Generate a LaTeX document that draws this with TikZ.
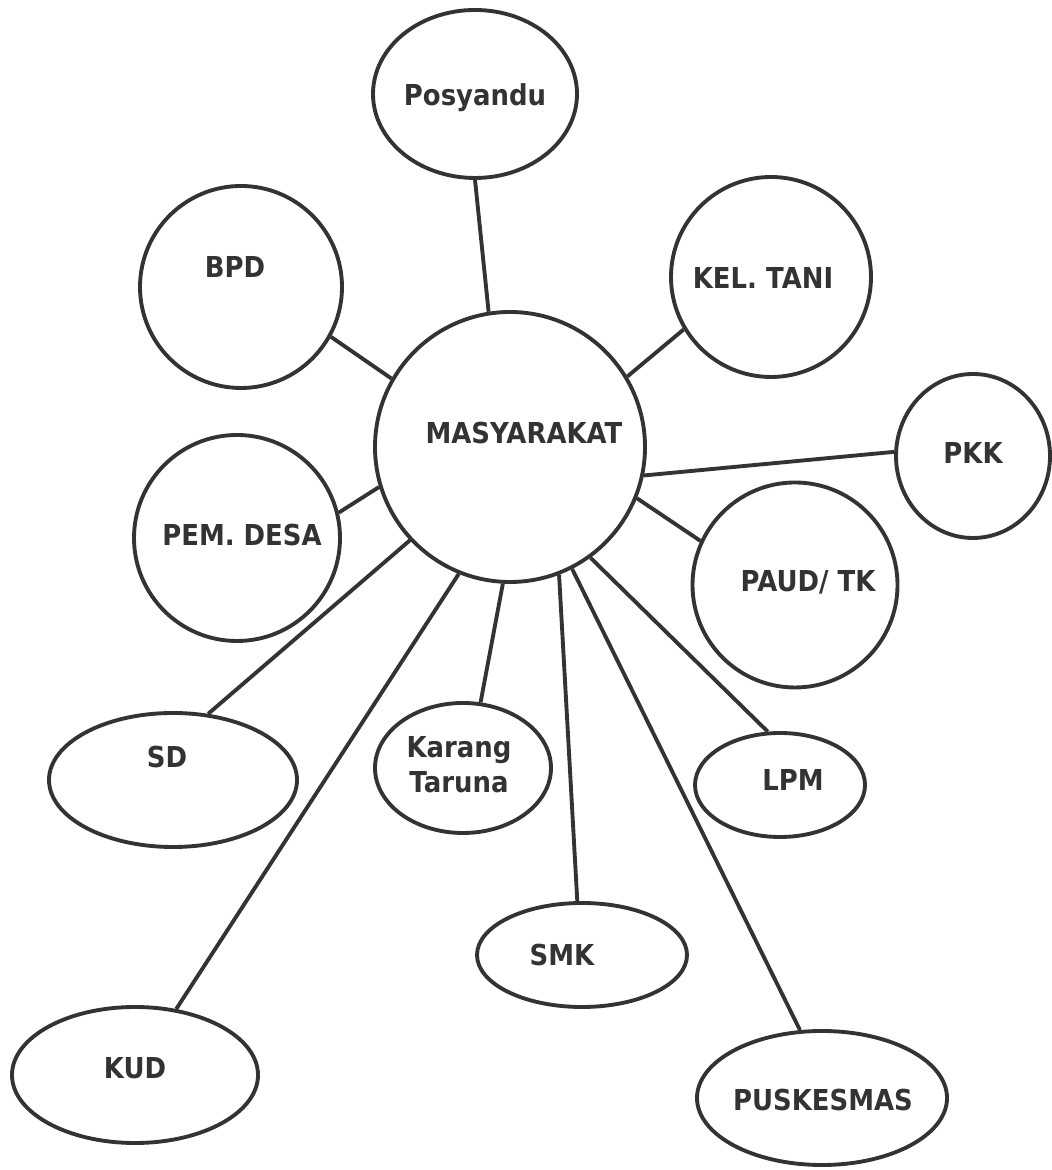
\documentclass[tikz,border=0pt]{standalone}
\usepackage{fontspec}
\setmainfont{DejaVu Sans}[FakeStretch=0.9]
\usepackage{tikz}
\usetikzlibrary{shapes.geometric}

\begin{document}
\begin{tikzpicture}[line width=1.1pt, color=black!80]
  \tikzset{unit/.style={draw, circle, minimum size=#1, inner sep=0},
           oval/.style 2 args={draw, ellipse, minimum width=#1, minimum height=#2, inner sep=0},
           lbl/.style={font=\fontsize{8.2}{10}\selectfont\bfseries, align=center, inner sep=0}}
  \useasboundingbox (0,0) rectangle (10.52,11.70);

  % the community in the middle
  \node[unit=2.70cm] (masy) at (5.10,7.23) {};
  \node[lbl] (masy-t) at (5.24,7.37) {MASYARAKAT};

  % upper ring
  \node[oval={2.04cm}{1.68cm}] (posy) at (4.75,10.76) {};
  \node[lbl] (posy-t) at (4.75,10.72) {Posyandu};
  \node[unit=2.02cm] (bpd) at (2.41,8.83) {};
  \node[lbl] (bpd-t) at (2.35,9.03) {BPD};
  \node[unit=2.00cm] (tani) at (7.71,8.93) {};
  \node[lbl] (tani-t) at (7.63,8.92) {KEL. TANI};
  \node[oval={1.54cm}{1.64cm}] (pkk) at (9.73,7.14) {};
  \node[lbl] (pkk-t) at (9.73,7.17) {PKK};
  \node[unit=2.06cm] (desa) at (2.37,6.32) {};
  \node[lbl] (desa-t) at (2.42,6.35) {PEM. DESA};
  \node[unit=2.05cm] (paud) at (7.95,5.85) {};
  \node[lbl] (paud-t) at (8.08,5.88) {PAUD/ TK};

  % lower ring
  \node[oval={2.48cm}{1.34cm}] (sd) at (1.73,3.90) {};
  \node[lbl] (sd-t) at (1.67,4.13) {SD};
  \node[oval={1.76cm}{1.30cm}] (karang) at (4.63,4.02) {};
  \node[lbl] (karang-t) at (4.59,4.05) {Karang\\Taruna};
  \node[oval={1.70cm}{1.04cm}] (lpm) at (7.80,3.85) {};
  \node[lbl] (lpm-t) at (7.93,3.90) {LPM};
  \node[oval={2.10cm}{1.04cm}] (smk) at (5.82,2.15) {};
  \node[lbl] (smk-t) at (5.62,2.15) {SMK};
  \node[oval={2.46cm}{1.36cm}] (kud) at (1.35,0.95) {};
  \node[lbl] (kud-t) at (1.35,1.02) {KUD};
  \node[oval={2.50cm}{1.34cm}] (pusk) at (8.22,0.72) {};
  \node[lbl] (pusk-t) at (8.23,0.70) {PUSKESMAS};

  % spokes
  \draw (masy.99)  -- (posy.south);
  \draw (masy.150) -- (bpd.-29);
  \draw (masy.31)  -- (tani.211);
  \draw (masy.-12) -- (pkk.177);
  \draw (masy.197) -- (desa.14);
  \draw (masy.-22) -- (paud.155);
  \draw (masy.223) -- (sd.62);
  \draw (masy.248) -- (kud.58);
  \draw (masy.267) -- (karang.75);
  \draw (masy.291) -- (smk.95);
  \draw (masy.297) -- (pusk.108);
  \draw (masy.306) -- (lpm.103);
\end{tikzpicture}
\end{document}
